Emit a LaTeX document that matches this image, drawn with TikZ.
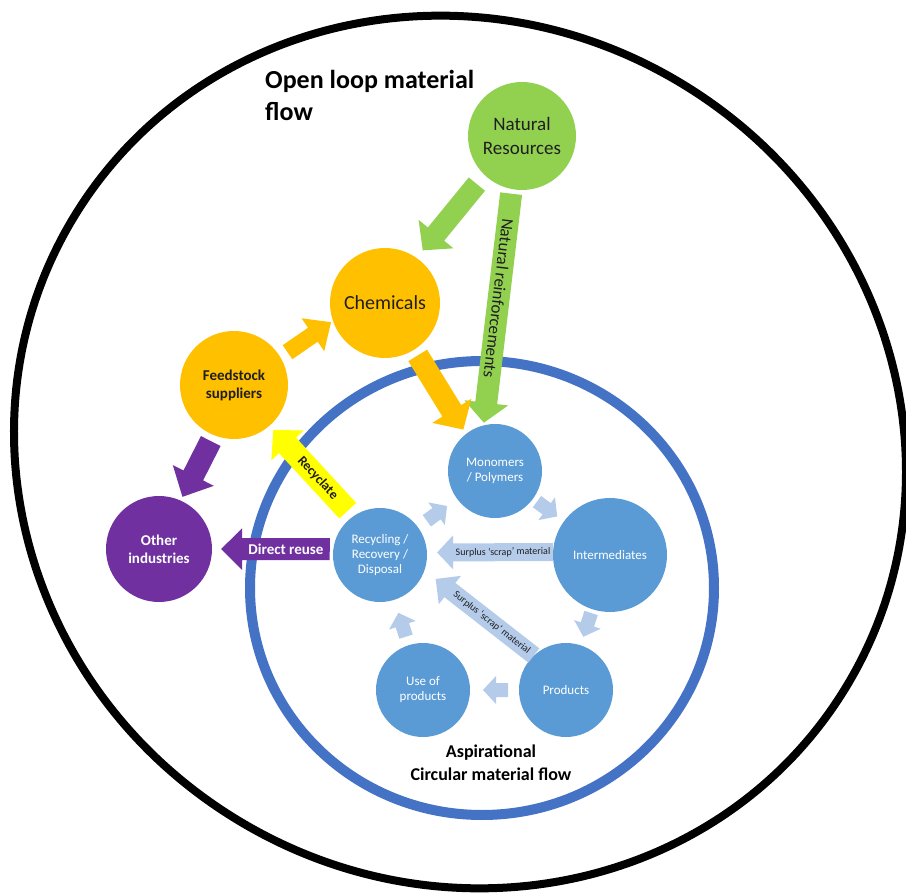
\documentclass[tikz,border=0pt]{standalone}
\usepackage{fontspec}
\setmainfont{Carlito}
\usetikzlibrary{calc}
\definecolor{cgreen}{HTML}{92D050}
\definecolor{corange}{HTML}{FFC000}
\definecolor{cpurple}{HTML}{7030A0}
\definecolor{cblue}{HTML}{5B9BD5}
\definecolor{clight}{HTML}{B4CBEA}
\definecolor{cring}{HTML}{4472C4}
\definecolor{cyellow}{HTML}{FFFF00}
\definecolor{ctext}{HTML}{1F1F1F}
% #1 style, #2 from, #3 to, #4 start gap, #5 end gap, #6 half shaft, #7 half head, #8 head length
\newcommand\fatarrow[8]{%
  \coordinate (fas) at ($(#2)!#4!(#3)$);
  \coordinate (fae) at ($(#3)!#5!(#2)$);
  \coordinate (fah) at ($(fae)!#8!(fas)$);
  \fill[#1] ($(fas)!#6!90:(fae)$) -- ($(fah)!#6!-90:(fas)$) -- ($(fah)!#7!-90:(fas)$)
    -- (fae) -- ($(fah)!#7!90:(fas)$) -- ($(fah)!#6!90:(fas)$) -- ($(fas)!#6!-90:(fae)$) -- cycle;
}
\begin{document}
\begin{tikzpicture}[x=1pt,y=-1pt,
  bub/.style={circle, inner sep=0pt, align=center},
  gbub/.style={bub, fill=cgreen, text=ctext, font=\fontsize{19}{24}\selectfont},
  obub/.style={bub, fill=corange, text=ctext},
  pbub/.style={bub, fill=cpurple, text=white, font=\bfseries\fontsize{15}{18}\selectfont},
  bbub/.style={bub, fill=cblue, text=white, font=\fontsize{13}{15}\selectfont, minimum size=94pt},
  smalltxt/.style={font=\fontsize{10}{12}\selectfont, text=ctext, inner sep=0pt}]
\fill[white] (0,0) rectangle (906,893);
\useasboundingbox (0,0) rectangle (906,893);
% outer open loop boundary (tilted ellipse)
\draw[line width=8pt, shift={(460,452)}, rotate=-32] (0,0) ellipse [x radius=452, y radius=430];
% circular flow ring
\draw[cring, line width=10pt] (482,588) ellipse [x radius=232, y radius=227];
% titles
\node[anchor=north west, align=left, inner sep=0pt, font=\bfseries\fontsize{26}{32}\selectfont] (title) at (265,70) {Open loop material\\flow};
\node[anchor=north, align=center, inner sep=0pt, font=\bfseries\fontsize{18}{23}\selectfont] (circ) at (491,745) {Aspirational\\Circular material flow};
% nodes
\node[gbub, minimum size=108pt] (nr) at (522,136) {Natural\\Resources};
\node[obub, minimum size=110pt, font=\fontsize{20}{24}\selectfont] (chem) at (385,303) {Chemicals};
\node[obub, minimum size=108pt, font=\bfseries\fontsize{15}{18}\selectfont] (feed) at (234,385) {Feedstock\\suppliers};
\node[pbub, minimum size=106pt] (other) at (159,549) {Other\\industries};
\node[bbub] (mono) at (495,471) {Monomers\\/ Polymers};
\node[bbub, minimum size=114pt] (inter) at (610,555) {Intermediates};
\node[bbub] (recyc) at (380,555) {Recycling /\\Recovery /\\Disposal};
\node[bbub] (prod) at (566,690) {Products};
\node[bbub] (use) at (423,690) {Use of\\products};
% open loop arrows
\fatarrow{fill=cgreen}{nr.226}{chem.55}{11.8pt}{9.6pt}{10.5pt}{22.5pt}{21pt}
\fatarrow{fill=cgreen}{nr.259}{mono.104}{4.5pt}{2.5pt}{11pt}{22pt}{20pt}
\path (fas) -- (fah) node[midway, sloped, allow upside down, inner sep=0pt, text=ctext, font=\fontsize{17}{20}\selectfont] (nrlab) {Natural reinforcements};
\fatarrow{fill=corange}{chem.302}{mono.128}{6.6pt}{5pt}{11pt}{23pt}{22pt}
\fatarrow{fill=corange}{feed.31}{chem.199}{8.6pt}{2.2pt}{8.5pt}{20pt}{22pt}
\fatarrow{fill=cpurple}{feed.248}{other.66}{6.5pt}{4pt}{11pt}{23pt}{24pt}
\fatarrow{fill=cyellow}{recyc.125}{feed.311}{7.6pt}{5.5pt}{11.5pt}{22pt}{21pt}
\path (fas) -- (fah) node[midway, sloped, inner sep=0pt, text=ctext, font=\bfseries\fontsize{13.5}{16}\selectfont] (rclab) {Recyclate};
\fatarrow{fill=cpurple}{recyc.173}{other.0}{3.4pt}{9pt}{11pt}{21pt}{21pt}
\path (fas) -- (fah) node[midway, sloped, inner sep=0pt, text=white, font=\bfseries\fontsize{15}{18}\selectfont] (drlab) {Direct reuse};
% circular flow arrows
\fatarrow{fill=clight}{inter.177}{recyc.3}{0pt}{10pt}{9pt}{17pt}{16pt}
\path (fas) -- (fah) node[midway, sloped, smalltxt] (s1lab) {Surplus ‘scrap’ material};
\fatarrow{fill=clight}{prod.133}{recyc.341}{0pt}{14pt}{9pt}{18pt}{18pt}
\path (fas) -- (fah) node[midway, sloped, smalltxt] (s2lab) {Surplus ‘scrap’ material};
\fatarrow{fill=clight}{recyc.center}{mono.center}{58pt}{59.4pt}{7pt}{14pt}{13pt}
\fatarrow{fill=clight}{mono.center}{inter.center}{52pt}{65.4pt}{7pt}{14pt}{13pt}
\fatarrow{fill=clight}{inter.center}{prod.center}{61pt}{56pt}{7pt}{14pt}{13pt}
\fatarrow{fill=clight}{prod.center}{use.center}{58pt}{60pt}{7pt}{14pt}{13pt}
\fatarrow{fill=clight}{use.center}{recyc.center}{56pt}{60.7pt}{7pt}{14pt}{13pt}
\end{tikzpicture}
\end{document}
